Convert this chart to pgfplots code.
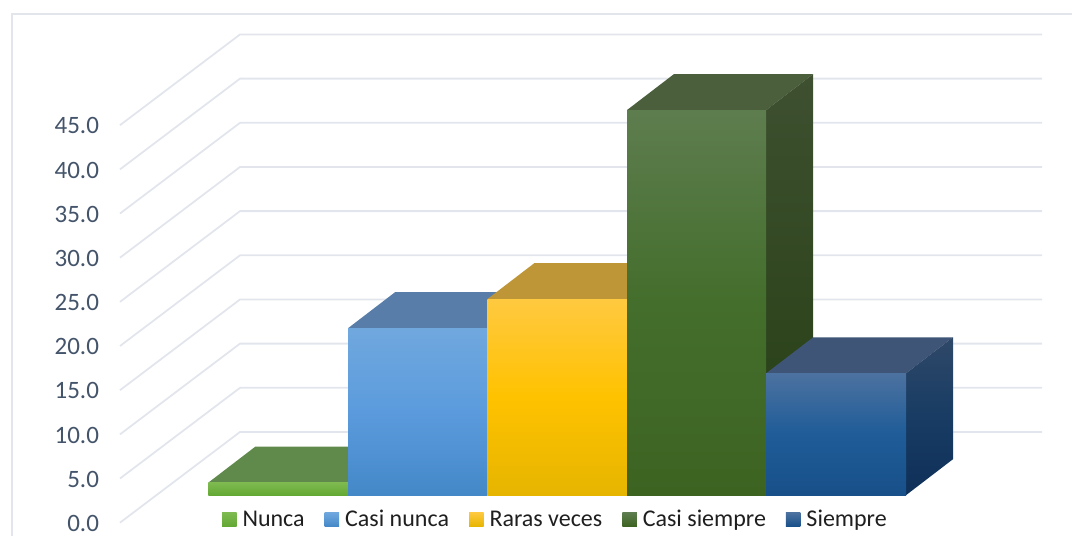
\documentclass[border=0pt]{standalone}
\usepackage{fontspec}
\setmainfont{Carlito}
\usepackage{pgfplots}
\pgfplotsset{compat=1.18}

\definecolor{gridc}{HTML}{E2E6EC}
\definecolor{ticktxt}{HTML}{44546A}

\pgfplotsset{
  gridline/.style={gridc, line width=1.8pt, no marks, forget plot},
  face/.style={draw=none, no marks, forget plot},
  swatch/.style={legend image code/.code={\path[draw=none, ##1] (0pt,-7pt) rectangle (14.5pt,7pt);}},
}

\begin{document}
\begin{tikzpicture}
\begin{axis}[
  scale only axis,
  width=1072pt, height=536pt,
  xmin=0, xmax=1072,
  ymin=-4.62, ymax=56.06,
  axis line style={draw=none},
  tick style={draw=none},
  xtick=\empty,
  ytick={-3.113,1.887,6.887,11.887,16.887,21.887,26.887,31.887,36.887,41.887},
  yticklabels={0.0,5.0,10.0,15.0,20.0,25.0,30.0,35.0,40.0,45.0},
  y tick label style={xshift=102.5pt, yshift=-0.8pt, text=ticktxt, font=\fontsize{25}{28}\selectfont},
  legend columns=5,
  legend style={
    at={(axis cs:222,-2.75)}, anchor=west,
    draw=none, fill=none, inner sep=0pt, outer sep=0pt,
    font=\fontsize{24}{27}\selectfont, text=black!88,
    /tikz/every even column/.append style={column sep=18pt},
    /tikz/every odd column/.append style={column sep=4pt},
  },
  legend cell align=left,
]
% frame
\addplot[gridline] coordinates {(12,-4.62) (12,54.48) (1072,54.48)};

% gridlines: front edge, back wall corner, right end
\addplot[gridline] coordinates {(120,-3.113) (240,7.155) (1042,7.155)};
\addplot[gridline] coordinates {(120,1.887) (240,12.155) (1042,12.155)};
\addplot[gridline] coordinates {(120,6.887) (240,17.155) (1042,17.155)};
\addplot[gridline] coordinates {(120,11.887) (240,22.155) (1042,22.155)};
\addplot[gridline] coordinates {(120,16.887) (240,27.155) (1042,27.155)};
\addplot[gridline] coordinates {(120,21.887) (240,32.155) (1042,32.155)};
\addplot[gridline] coordinates {(120,26.887) (240,37.155) (1042,37.155)};
\addplot[gridline] coordinates {(120,31.887) (240,42.155) (1042,42.155)};
\addplot[gridline] coordinates {(120,36.887) (240,47.155) (1042,47.155)};
\addplot[gridline] coordinates {(120,41.887) (240,52.155) (1042,52.155)};

% Nunca 1.42
\addplot[face, fill={rgb,255:red,96;green,138;blue,75}] coordinates {(208.3,1.42) (255.3,5.495) (395,5.495) (348,1.42)} -- cycle;
\addplot[face, top color={rgb,255:red,126;green,186;blue,80}, bottom color={rgb,255:red,100;green,168;blue,52}] coordinates {(208.3,0) (348,0) (348,1.42) (208.3,1.42)} -- cycle;

% Casi nunca 18.9
\addplot[face, fill={rgb,255:red,88;green,125;blue,168}] coordinates {(348,18.9) (395,22.975) (534.4,22.975) (487.4,18.9)} -- cycle;
\addplot[face, top color={rgb,255:red,112;green,168;blue,222}, bottom color={rgb,255:red,68;green,136;blue,200}, middle color={rgb,255:red,91;green,155;blue,221}] coordinates {(348,0) (487.4,0) (487.4,18.9) (348,18.9)} -- cycle;

% Raras veces 22.2
\addplot[face, fill={rgb,255:red,191;green,150;blue,55}] coordinates {(487.4,22.2) (534.4,26.275) (674,26.275) (627,22.2)} -- cycle;
\addplot[face, top color={rgb,255:red,255;green,201;blue,64}, bottom color={rgb,255:red,230;green,181;blue,0}, middle color={rgb,255:red,255;green,194;blue,0}] coordinates {(487.4,0) (627,0) (627,22.2) (487.4,22.2)} -- cycle;

% Casi siempre 43.6
\addplot[face, fill={rgb,255:red,75;green,95;blue,60}] coordinates {(627,43.6) (674,47.675) (813.2,47.675) (766.2,43.6)} -- cycle;
\addplot[face, top color={rgb,255:red,62;green,80;blue,48}, bottom color={rgb,255:red,36;green,62;blue,18}] coordinates {(766.2,0) (813.2,4.075) (813.2,47.675) (766.2,43.6)} -- cycle;
\addplot[face, top color={rgb,255:red,94;green,125;blue,79}, bottom color={rgb,255:red,61;green,99;blue,33}, middle color={rgb,255:red,68;green,110;blue,44}] coordinates {(627,0) (766.2,0) (766.2,43.6) (627,43.6)} -- cycle;

% Siempre 13.8
\addplot[face, fill={rgb,255:red,62;green,85;blue,120}] coordinates {(766.2,13.8) (813.2,17.875) (953,17.875) (906,13.8)} -- cycle;
\addplot[face, top color={rgb,255:red,47;green,72;blue,104}, bottom color={rgb,255:red,15;green,48;blue,88}, middle color={rgb,255:red,24;green,60;blue,100}] coordinates {(906,0) (953,4.075) (953,17.875) (906,13.8)} -- cycle;
\addplot[face, top color={rgb,255:red,76;green,114;blue,160}, bottom color={rgb,255:red,24;green,80;blue,137}, middle color={rgb,255:red,31;green,92;blue,152}] coordinates {(766.2,0) (906,0) (906,13.8) (766.2,13.8)} -- cycle;

% legend
\addlegendimage{swatch, top color={rgb,255:red,126;green,186;blue,80}, bottom color={rgb,255:red,100;green,168;blue,52}}
\addlegendentry{Nunca}
\addlegendimage{swatch, top color={rgb,255:red,112;green,168;blue,222}, bottom color={rgb,255:red,68;green,136;blue,200}}
\addlegendentry{Casi nunca}
\addlegendimage{swatch, top color={rgb,255:red,255;green,201;blue,64}, bottom color={rgb,255:red,230;green,181;blue,0}}
\addlegendentry{Raras veces}
\addlegendimage{swatch, top color={rgb,255:red,94;green,125;blue,79}, bottom color={rgb,255:red,61;green,99;blue,33}}
\addlegendentry{Casi siempre}
\addlegendimage{swatch, top color={rgb,255:red,76;green,114;blue,160}, bottom color={rgb,255:red,24;green,80;blue,137}}
\addlegendentry{Siempre}
\end{axis}
\end{tikzpicture}
\end{document}
